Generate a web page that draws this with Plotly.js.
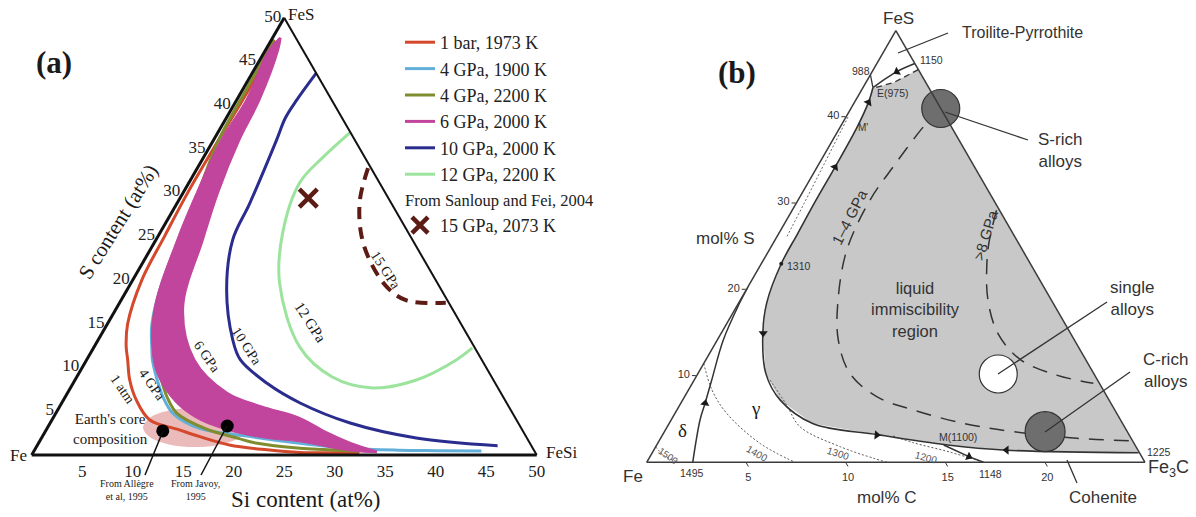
<!DOCTYPE html>
<html><head><meta charset="utf-8">
<script src="https://cdn.plot.ly/plotly-3.0.1.min.js"></script>
<style>html,body{margin:0;padding:0;background:#fff;}#chart{width:1196px;height:517px;}</style>
</head><body><div id="chart"></div>
<script>
const W = 1196, H = 517;
const SERIF = 'Liberation Serif, Times New Roman, serif';
const SANS = 'Liberation Sans, Arial, sans-serif';

// ================= Panel (a): Fe–FeS–FeSi, contents in at% =================
const legendNames = ['1 bar, 1973 K', '4 GPa, 1900 K', '4 GPa, 2200 K', '6 GPa, 2000 K', '10 GPa, 2000 K', '12 GPa, 2200 K', '15 GPa, 2073 K'];
const groupTitle = 'From Sanloup and Fei, 2004';

const bar1_S  = [47.3, 42, 36, 30, 25, 20, 15, 12.5, 10.9, 8.6, 6.3, 4.0, 2.9, 2.1, 1.15, 0.6, 0.3, 0.26, 0.25];
const bar1_Si = [0.5, 0.6, 0.5, 0.45, 0.65, 0.9, 2.0, 3.1, 4.05, 5.4, 7.2, 9.7, 13.1, 15.6, 19.0, 23.0, 26.4, 31.5, 32.3];

const gpa4a_S  = [47, 42, 36, 30, 25, 20, 15, 12, 10.9, 8.5, 6.5, 4.77, 3.05, 2.2, 1.34, 0.77, 0.55, 0.5, 0.45];
const gpa4a_Si = [0.8, 1.1, 1.2, 1.6, 2.3, 3.0, 4.4, 5.9, 6.5, 8.2, 9.8, 11.6, 15.1, 20.0, 25.9, 31.0, 36, 40, 44.3];

const gpa4b_S  = [47.5, 42, 36, 30, 25, 20, 15, 12, 10.9, 8.5, 6.5, 4.77, 3.05, 1.9, 1.37, 0.77, 0.49, 0.45];
const gpa4b_Si = [0.25, 0.35, 0.5, 1.5, 2.3, 3.1, 4.5, 6.1, 6.8, 8.6, 10.2, 12.0, 15.6, 19.5, 21.5, 26.2, 31.3, 32.3];

// 6 GPa band: upper edge (towards FeSi) and lower edge (towards Fe)
const gpa6up_S  = [47.7, 46.3, 40.6, 36.0, 30.0, 24.6, 16.9, 10.9, 7.06, 5.5, 4.2, 2.5, 1.37, 0.34];
const gpa6up_Si = [0.75, 1.2, 2.2, 2.5, 3.4, 4.6, 6.5, 10.6, 15.8, 20.0, 24.4, 28.0, 30.8, 34.0];
const gpa6lo_S  = [0.46, 1.52, 1.91, 2.67, 4.0, 5.9, 8.58, 11.2, 16.9, 24.6, 30.0, 36.0, 40.6, 46.3, 47.7];
const gpa6lo_Si = [31.3, 25.8, 22.3, 18.6, 14.66, 11.4, 8.4, 6.4, 3.7, 2.06, 1.3, 0.7, 0.9, 0.3, 0.75];

const gpa10_S  = [43.7, 40.6, 38.5, 36.0, 28.8, 24.6, 18.9, 13.2, 10.9, 8.2, 5.95, 3.66, 1.95, 1.06];
const gpa10_Si = [6.35, 5.95, 5.85, 6.24, 7.2, 7.6, 9.85, 13.3, 15.2, 19.2, 23.6, 29.7, 37.1, 45.6];

const gpa12_S  = [36.84, 34.0, 31.12, 25.4, 19.68, 12.36, 8.92, 7.67, 8.58, 10.87, 12.24];
const gpa12_Si = [13.07, 11.8, 10.97, 12.15, 14.7, 20.35, 25.3, 29.9, 33.8, 36.6, 37.5];

const gpa15_S  = [32.8, 29.2, 25.4, 22.3, 19.26, 17.7, 17.4];
const gpa15_Si = [16.9, 17.9, 19.9, 22.3, 25.5, 28.2, 32.3];

const sanloup_S = [29.37], sanloup_Si = [12.7];

// Earth's core composition region and reference estimates (Allègre et al 1995, Javoy 1995)
const core_S  = [3.15, 2.03, 1.21, 0.92, 1.21, 2.03, 3.15, 4.26, 5.08, 5.38, 5.08, 4.26, 3.15];
const core_Si = [19.74, 19.61, 18.14, 15.71, 12.99, 10.70, 9.45, 9.58, 11.05, 13.48, 16.2, 18.49, 19.74];
const refs_S  = [2.75, 3.32];
const refs_Si = [11.6, 17.7];

const ticksS  = [5, 10, 15, 20, 25, 30, 35, 40, 45, 50];
const ticksSi = [5, 10, 15, 20, 25, 30, 35, 40, 45, 50];

// ================= Panel (b): Fe–FeS–Fe3C, mol% S and mol% C =================
const immS = [43.4, 41.7, 38.8, 34.2, 30.4, 26.5, 23.0, 18.5, 14.9, 10.3, 7.2, 4.5, 3.2, 2.0, 1.4, 1.1];
const immC = [0.5, 0.7, 0.85, 0.9, 0.9, 0.95, 1.0, 1.4, 2.1, 3.4, 4.9, 7.2, 10.8, 14.6, 17.7, 24.4];
const immTopS = [45.5, 44.0, 43.4];
const immTopC = [2.25, 1.4, 0.6];
const line1150S = [46.2, 45.3, 44.4, 43.4];
const line1150C = [1.9, 1.25, 0.85, 0.5];
const line988S = [44.9, 43.4];
const line988C = [0, 0.5];
const dottedEdgeS = [40, 35, 30, 26];
const dottedEdgeC = [0.1, 0.25, 0.4, 0.5];
const line1495S = [0, 4.9, 6.84, 9.53, 14.17, 18.42, 20.3];
const line1495C = [2.31, 1.45, 1.22, 0.88, 0.30, 0.05, 0];
const iso1500S = [1.8, 0.75, 0];       const iso1500C = [0, 0.7, 1.6];
const iso1400S = [11.45, 8.38, 5.68, 2.2, 0]; const iso1400C = [0, 1.18, 2.59, 5.13, 7.44];
const iso1300S = [9.53, 6.64, 4.12, 1.81, 0]; const iso1300C = [3.8, 5.36, 6.66, 9.25, 12.04];
const iso1200S = [3.05, 2.27, 1.19, 0]; const iso1200C = [11.6, 12.8, 14.9, 16.9];
const line1148S = [2.0, 0.65, 0];     const line1148C = [14.4, 16.0, 16.9];
const gpa14S = [40.9, 39.1, 34.25, 30.4, 24.6, 18.8, 14.2, 10.3, 7.6, 6.06, 4.52, 3.55, 2.78, 2.47];
const gpa14C = [4.5, 4.19, 3.81, 3.61, 3.89, 4.9, 6.06, 7.62, 9.64, 11.86, 14.75, 17.49, 20.88, 23.78];
const gpa8S = [29.2, 25.5, 22.9, 18.8, 14.9, 11.9, 10.1, 9.15];
const gpa8C = [10.25, 10.8, 11.34, 12.42, 13.9, 15.77, 18.04, 20.12];
const alloyNames = ['S-rich', 'single', 'C-rich'];
const alloyS = [41.13, 10.23, 3.55];
const alloyC = [4.52, 15.08, 19.1];
const arrowS = [6.84, 14.94, 34.2, 41.7, 3.16, 1.42, 45.25, 0.65];
const arrowC = [1.22, 2.11, 0.9, 0.7, 10.75, 17.7, 1.24, 16.0];
const arrowDir = [10, 180, 30, 30, 95, 270, 240, 115];
const pt1310S = [23.0], pt1310C = [1.0];
const ticksBS = [10, 20, 30, 40];
const ticksBC = [5, 10, 15, 20];

// ================= helpers =================
function ternA(S, Si) { return { a: S.slice(), c: Si.slice(), b: S.map((s, i) => Math.max(0, 50 - s - Si[i])) }; }
function ternB(S, C) {
  const a = S.map(s => 2 * s), c = C.map(v => 4 * v);
  return { a, c, b: a.map((v, i) => Math.max(0, 100 - v - c[i])) };
}
function trA(S, Si, o) {
  const t = ternA(S, Si);
  return Object.assign({ type: 'scatterternary', subplot: 'ternary', a: t.a, b: t.b, c: t.c, mode: 'lines',
    hoverinfo: 'skip', cliponaxis: false, showlegend: false }, o);
}
function trB(S, C, o) {
  const t = ternB(S, C);
  return Object.assign({ type: 'scatterternary', subplot: 'ternary2', a: t.a, b: t.b, c: t.c, mode: 'lines',
    hoverinfo: 'skip', cliponaxis: false, showlegend: false }, o);
}
const px = (x) => x / W, py = (y) => 1 - y / H;

const colA = { red: '#d4482b', blue: '#62b0da', olive: '#7f8d2e', mag: '#c1449d', navy: '#2a2c8e', green: '#9ce49e', brown: '#5c1c15' };

const traces = [
  trA(core_S, core_Si, { fill: 'toself', fillcolor: 'rgba(222,140,140,0.6)', line: { width: 0, shape: 'spline' } }),
  trA(bar1_S, bar1_Si, { name: legendNames[0], showlegend: true, line: { color: colA.red, width: 3, shape: 'spline' } }),
  trA(gpa4a_S, gpa4a_Si, { name: legendNames[1], showlegend: true, line: { color: colA.blue, width: 3, shape: 'spline' } }),
  trA(gpa4b_S, gpa4b_Si, { name: legendNames[2], showlegend: true, line: { color: colA.olive, width: 3, shape: 'spline' } }),
  trA(gpa6up_S.concat(gpa6lo_S), gpa6up_Si.concat(gpa6lo_Si), { fill: 'toself', fillcolor: colA.mag, line: { color: colA.mag, width: 1, shape: 'spline' } }),
  trA(gpa6up_S, gpa6up_Si, { name: legendNames[3], showlegend: true, line: { color: colA.mag, width: 3, shape: 'spline' } }),
  trA(gpa10_S, gpa10_Si, { name: legendNames[4], showlegend: true, line: { color: colA.navy, width: 3, shape: 'spline' } }),
  trA(gpa12_S, gpa12_Si, { name: legendNames[5], showlegend: true, line: { color: colA.green, width: 3, shape: 'spline' } }),
  trA(gpa15_S, gpa15_Si, { line: { color: colA.brown, width: 4, dash: '12px,8px', shape: 'spline' } }),
  trA(sanloup_S, sanloup_Si, { name: legendNames[6], showlegend: true, mode: 'markers', legendgroup: 'sanloup',
    legendgrouptitle: { text: groupTitle, font: { family: SERIF, size: 16.5, color: '#222' } },
    marker: { symbol: 'x-thin', size: 18, opacity: 1, color: colA.brown, line: { width: 4.5, color: colA.brown } } }),
  trA(refs_S, refs_Si, { mode: 'markers', marker: { color: '#000', size: 13, opacity: 1 } }),

  // panel (b)
  trB(immS.concat([1.1, 45.5], immTopS), immC.concat([24.4, 2.25], immTopC), { fill: 'toself', fillcolor: '#c8c8c8', line: { width: 0 } }),
  trB(dottedEdgeS, dottedEdgeC, { line: { color: '#666', width: 1, dash: '2px,2px' } }),
  trB(iso1500S, iso1500C, { line: { color: '#555', width: 1, dash: '2px,2px', shape: 'spline' } }),
  trB(iso1400S, iso1400C, { line: { color: '#555', width: 1, dash: '2px,2px', shape: 'spline' } }),
  trB(iso1300S, iso1300C, { line: { color: '#555', width: 1, dash: '2px,2px', shape: 'spline' } }),
  trB(iso1200S, iso1200C, { line: { color: '#555', width: 1, dash: '2px,2px', shape: 'spline' } }),
  trB(immS, immC, { line: { color: '#333', width: 1.6, shape: 'spline' } }),
  trB(immTopS, immTopC, { line: { color: '#333', width: 1.3, dash: '6px,4px' } }),
  trB(line1150S, line1150C, { line: { color: '#333', width: 1.5, shape: 'spline' } }),
  trB(line988S, line988C, { line: { color: '#333', width: 1.3 } }),
  trB(line1495S, line1495C, { line: { color: '#333', width: 1.5, shape: 'spline' } }),
  trB(line1148S, line1148C, { line: { color: '#333', width: 1.5 } }),
  trB(gpa14S, gpa14C, { line: { color: '#333', width: 1.5, dash: '15px,10px', shape: 'spline' } }),
  trB(gpa8S, gpa8C, { line: { color: '#333', width: 1.5, dash: '15px,10px', shape: 'spline' } }),
  trB(alloyS, alloyC, { mode: 'markers', text: alloyNames,
    marker: { size: [38, 38, 40], opacity: 1, color: ['#6e6e6e', '#ffffff', '#6e6e6e'], line: { color: '#333', width: 1.2 } } }),
  trB(arrowS, arrowC, { mode: 'markers', marker: { symbol: 'triangle-up', size: 8, opacity: 1, color: '#1a1a1a', angle: arrowDir } }),
  trB(pt1310S, pt1310C, { mode: 'markers', marker: { size: 4, color: '#222' } })
];

function ann(text, x, y, size, o) {
  return Object.assign({ text, x: px(x), y: py(y), xref: 'paper', yref: 'paper', showarrow: false,
    xanchor: 'center', yanchor: 'middle', font: { family: SERIF, size, color: '#1a1a1a' } }, o || {});
}
function annS(text, x, y, size, o) {
  const a = ann(text, x, y, size, o); a.font = Object.assign({ family: SANS, size, color: '#333' }, (o && o.font) || {}); return a;
}

const annotations = [
  ann('<b>(a)</b>', 54, 63, 31),
  ann('S content (at%)', 118, 222, 21, { textangle: -58 }),
  ann('Si content (at%)', 305, 499, 23),
  ann('Fe', 18, 455, 17),
  ann('FeSi', 561, 452, 17),
  ann('FeS', 301, 14, 17),
  ann('1 atm', 123, 389, 14, { textangle: 55 }),
  ann('4 GPa', 152, 384, 14, { textangle: 55 }),
  ann('6 GPa', 207, 356, 14, { textangle: 55 }),
  ann('10 GPa', 247, 346, 14, { textangle: 57 }),
  ann('12 GPa', 310, 322, 15, { textangle: 57 }),
  ann('15 GPa', 386, 270, 14, { textangle: 57 }),
  ann("Earth's core<br>composition", 110, 429, 15),
  ann('From Allègre<br>et al, 1995', 127, 490, 10),
  ann('From Javoy,<br>1995', 195, 490, 10),

  ann('<b>(b)</b>', 737, 72, 31),
  annS('FeS', 898, 18, 17),
  annS('Fe', 633, 476, 17),
  annS('Fe<sub>3</sub>C', 1168, 468, 18),
  annS('mol% S', 725, 238, 17),
  annS('mol% C', 887, 497, 17),
  annS('Troilite-Pyrrothite', 1022, 33, 16),
  annS('1150', 931, 60, 10.5),
  annS('988', 861, 71, 10.5),
  annS('E(975)', 893, 93, 10.5),
  annS("M'", 863, 128, 10),
  annS('1310', 799, 266, 10.5),
  annS('1495', 692, 473, 10.5),
  annS('1148', 990, 474, 10.5),
  annS('1225', 1159, 452, 10.5),
  annS('M(1100)', 958, 437, 10.5),
  annS('1500', 668, 455, 9.5, { textangle: 35, font: { family: SANS, size: 9.5, color: '#555' } }),
  annS('1400', 757, 453, 10, { textangle: 30, font: { family: SANS, size: 10, color: '#555' } }),
  annS('1300', 838, 453, 10, { textangle: 18, font: { family: SANS, size: 10, color: '#555' } }),
  annS('1200', 926, 457, 10, { textangle: 15, font: { family: SANS, size: 10, color: '#555' } }),
  ann('δ', 682, 430, 19),
  ann('γ', 755, 408, 19),
  annS('liquid<br>immiscibility<br>region', 915, 309, 16.5),
  annS('1–4 GPa', 850, 217, 15, { textangle: -63 }),
  annS('>8 GPa', 985, 235, 15, { textangle: -73 }),
  annS('S-rich<br>alloys', 1060, 151, 17),
  annS('single<br>alloys', 1132, 298, 17),
  annS('C-rich<br>alloys', 1165, 370, 17),
  annS('Cohenite', 1103, 497, 17)
];

function seg(x0, y0, x1, y1, color, w) {
  return { type: 'line', xref: 'paper', yref: 'paper', x0: px(x0), y0: py(y0), x1: px(x1), y1: py(y1),
    line: { color: color || '#222', width: w || 1.2 } };
}
const shapes = [
  seg(163, 431, 145, 475, '#111', 1.5),
  seg(227, 426, 201, 475, '#111', 1.5),
  seg(898, 53, 948, 33, '#333', 1.3),
  seg(945, 112, 1028, 140, '#333', 1.3),
  seg(998, 374, 1107, 302, '#333', 1.3),
  seg(1045, 432, 1130, 372, '#333', 1.3),
  seg(1067, 460, 1077, 483, '#333', 1.3)
];

const ycA = 1 - ((17.7 + 455) / 2) / H;
const ycB = 1 - ((30.7 + 462.3) / 2) / H;
const axA = (o) => Object.assign({ min: 0, showgrid: false, showline: true, linecolor: '#111', linewidth: 3, ticks: '',
  tickfont: { family: SERIF, size: 17, color: '#222' }, title: { text: '' } }, o);
const axB = (o) => Object.assign({ min: 0, showgrid: false, showline: true, linecolor: '#3a3a3a', linewidth: 1.5, ticks: 'outside',
  ticklen: 4, tickcolor: '#333', tickfont: { family: SANS, size: 11, color: '#333' }, title: { text: '' } }, o);

const layout = {
  width: W, height: H, margin: { l: 0, r: 0, t: 0, b: 0 }, paper_bgcolor: '#fff', plot_bgcolor: '#fff',
  showlegend: true,
  legend: { x: px(400), y: py(24), xanchor: 'left', yanchor: 'top', bgcolor: 'rgba(0,0,0,0)', borderwidth: 0,
    font: { family: SERIF, size: 18, color: '#222' }, traceorder: 'grouped', tracegroupgap: 0 },
  ternary: {
    domain: { x: [31.7 / W, 536.7 / W], y: [ycA - 0.45, ycA + 0.45] }, sum: 50, bgcolor: 'rgba(0,0,0,0)',
    aaxis: axA({ tickmode: 'array', tickvals: ticksS, ticktext: ticksS.map(String) }),
    baxis: axA({ tickmode: 'array', tickvals: ticksSi.map(v => 50 - v), ticktext: ticksSi.map(String) }),
    caxis: axA({ showticklabels: false, linewidth: 2 })
  },
  ternary2: {
    domain: { x: [646.7 / W, 1145 / W], y: [ycB - 0.45, ycB + 0.45] }, sum: 100, bgcolor: 'rgba(0,0,0,0)',
    aaxis: axB({ tickmode: 'array', tickvals: ticksBS.map(v => 2 * v), ticktext: ticksBS.map(String) }),
    baxis: axB({ tickmode: 'array', tickvals: ticksBC.map(v => 100 - 4 * v), ticktext: ticksBC.map(String) }),
    caxis: axB({ showticklabels: false, ticks: '' })
  },
  annotations, shapes
};

Plotly.newPlot('chart', traces, layout, { staticPlot: true, displayModeBar: false });
</script></body></html>
